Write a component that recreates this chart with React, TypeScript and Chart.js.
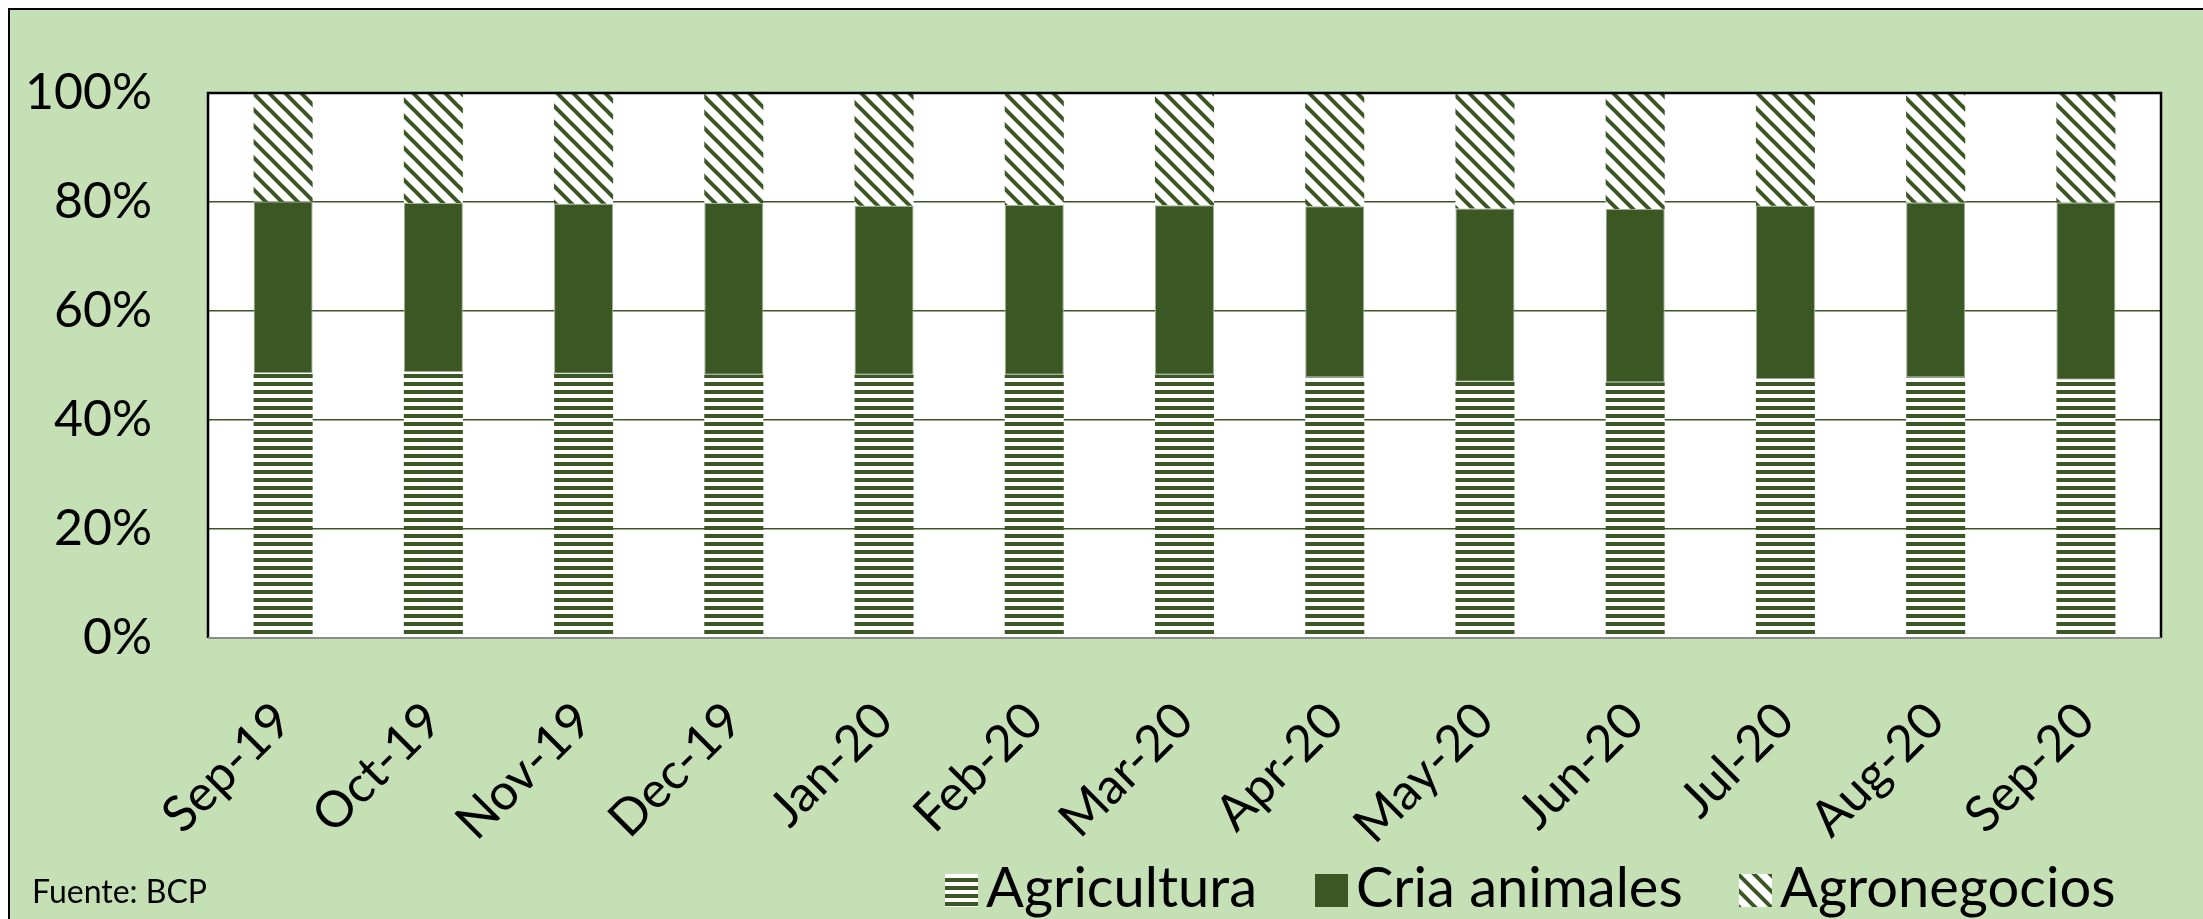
import React, { useEffect, useRef } from 'react';
import { Chart, registerables } from 'chart.js';

Chart.register(...registerables);

const categories = ['Sep-19', 'Oct-19', 'Nov-19', 'Dec-19', 'Jan-20', 'Feb-20', 'Mar-20', 'Apr-20', 'May-20', 'Jun-20', 'Jul-20', 'Aug-20', 'Sep-20'];
const agricultura = [48.6, 48.8, 48.5, 48.3, 48.3, 48.3, 48.3, 47.8, 47.0, 46.9, 47.5, 47.8, 47.4];
const criaAnimales = [31.5, 31.0, 31.2, 31.5, 31.0, 31.15, 31.1, 31.4, 31.8, 31.8, 31.8, 32.1, 32.5];
const agronegocios = [19.9, 20.2, 20.3, 20.2, 20.7, 20.55, 20.6, 20.8, 21.2, 21.3, 20.7, 20.1, 20.1];
const seriesNames = ['Agricultura', 'Cria animales', 'Agronegocios'];
const yTickStep = 20;
const yMax = 100;
const sourceNote = 'Fuente: BCP';

const DARK = '#3a5724';
const BG = '#C5E0B4';
const FONT = 'Lato';

// custom legend geometry (canvas px)
const LEG_BOX_XS = [935, 1305, 1729];
const LEG_BOX_TOP = 864;
const LEG_BOX = 33;
const LEG_TEXT_OFF = 41;
const LEG_BASELINE = 897;
const LEG_FONT = 56;

function horizontalStripes(): CanvasPattern | string {
  const c = document.createElement('canvas');
  c.width = 8; c.height = 8;
  const x = c.getContext('2d');
  if (!x) return DARK;
  x.fillStyle = '#ffffff';
  x.fillRect(0, 0, 8, 8);
  x.fillStyle = DARK;
  x.fillRect(0, 4, 8, 4);
  return x.createPattern(c, 'repeat') || DARK;
}

function diagonalStripes(): CanvasPattern | string {
  const s = 16;
  const c = document.createElement('canvas');
  c.width = s; c.height = s;
  const x = c.getContext('2d');
  if (!x) return DARK;
  x.fillStyle = '#ffffff';
  x.fillRect(0, 0, s, s);
  x.strokeStyle = DARK;
  x.lineWidth = 4;
  for (const k of [-s, 0, s]) {
    x.beginPath();
    x.moveTo(k - 2, -2);
    x.lineTo(k + s + 2, s + 2);
    x.stroke();
  }
  return x.createPattern(c, 'repeat') || DARK;
}

const plotFrame = {
  id: 'plotFrame',
  beforeDraw(chart: any) {
    const { ctx, chartArea } = chart;
    const { left, top, right, bottom } = chartArea;
    ctx.save();
    ctx.fillStyle = '#ffffff';
    ctx.fillRect(left, top, right - left, bottom - top);
    ctx.restore();
  },
  afterDatasetsDraw(chart: any) {
    const { ctx, chartArea } = chart;
    const { left, top, right, bottom } = chartArea;
    ctx.save();
    ctx.strokeStyle = '#000000';
    ctx.lineWidth = 2.5;
    ctx.beginPath();
    ctx.moveTo(left, bottom);
    ctx.lineTo(left, top);
    ctx.lineTo(right, top);
    ctx.lineTo(right, bottom);
    ctx.stroke();
    ctx.strokeStyle = '#8c8c8c';
    ctx.lineWidth = 2;
    ctx.beginPath();
    ctx.moveTo(left, bottom);
    ctx.lineTo(right, bottom);
    ctx.stroke();
    ctx.restore();
  },
};

const customLegend = {
  id: 'customLegend',
  afterDraw(chart: any) {
    const ctx = chart.ctx;
    ctx.save();
    ctx.font = `${LEG_FONT}px ${FONT}`;
    ctx.textBaseline = 'alphabetic';
    ctx.textAlign = 'left';
    chart.data.datasets.forEach((ds: any, i: number) => {
      const x = LEG_BOX_XS[i];
      ctx.fillStyle = ds.backgroundColor;
      ctx.fillRect(x, LEG_BOX_TOP, LEG_BOX, LEG_BOX);
      ctx.fillStyle = '#000000';
      ctx.fillText(ds.label, x + LEG_TEXT_OFF, LEG_BASELINE);
    });
    ctx.restore();
  },
};

export default function App() {
  const ref = useRef<HTMLCanvasElement | null>(null);

  useEffect(() => {
    if (!ref.current) return;
    const hPat = horizontalStripes();
    const dPat = diagonalStripes();
    const chart = new Chart(ref.current, {
      type: 'bar',
      data: {
        labels: categories,
        datasets: [
          { label: seriesNames[0], data: agricultura, backgroundColor: hPat as any, borderWidth: 0 },
          { label: seriesNames[1], data: criaAnimales, backgroundColor: DARK, borderColor: '#9fb192', borderWidth: 1, borderSkipped: false },
          { label: seriesNames[2], data: agronegocios, backgroundColor: dPat as any, borderWidth: 0 },
        ],
      },
      options: {
        responsive: false,
        animation: false,
        devicePixelRatio: 1,
        datasets: { bar: { barPercentage: 0.393, categoryPercentage: 1 } },
        layout: { padding: { left: 0, top: 83, right: 42, bottom: 21 } },
        plugins: {
          tooltip: { enabled: false },
          title: { display: false },
          legend: { display: false },
        },
        scales: {
          x: {
            stacked: true,
            grid: { display: false, drawTicks: false },
            border: { display: false },
            ticks: {
              autoSkip: false,
              maxRotation: 45,
              minRotation: 45,
              padding: 53,
              color: '#000000',
              font: { family: FONT, size: 50 },
            },
            afterFit(scale: any) { scale.height = 260; },
          },
          y: {
            stacked: true,
            min: 0,
            max: yMax,
            grid: { color: DARK, lineWidth: 1.5, drawTicks: true, tickLength: 56, tickColor: 'rgba(0,0,0,0)' },
            border: { display: false },
            ticks: {
              stepSize: yTickStep,
              padding: 0,
              color: '#000000',
              font: { family: FONT, size: 50 },
              callback: (v: any) => `${v}%`,
            },
            afterFit(scale: any) { scale.width = 198; },
          },
        },
      },
      plugins: [plotFrame, customLegend],
    });
    return () => chart.destroy();
  }, []);

  return (
    <div
      style={{
        position: 'fixed',
        left: 8,
        top: 8,
        width: 2195,
        height: 911,
        boxSizing: 'border-box',
        borderLeft: '2px solid #000',
        borderTop: '2px solid #000',
        background: BG,
        overflow: 'hidden',
      }}
    >
      <canvas ref={ref} width={2193} height={909} style={{ display: 'block' }} />
      <div
        style={{
          position: 'absolute',
          left: 22,
          top: 865,
          fontFamily: FONT,
          fontSize: 32,
          lineHeight: 1,
          color: '#000',
          whiteSpace: 'nowrap',
        }}
      >
        {sourceNote}
      </div>
    </div>
  );
}
